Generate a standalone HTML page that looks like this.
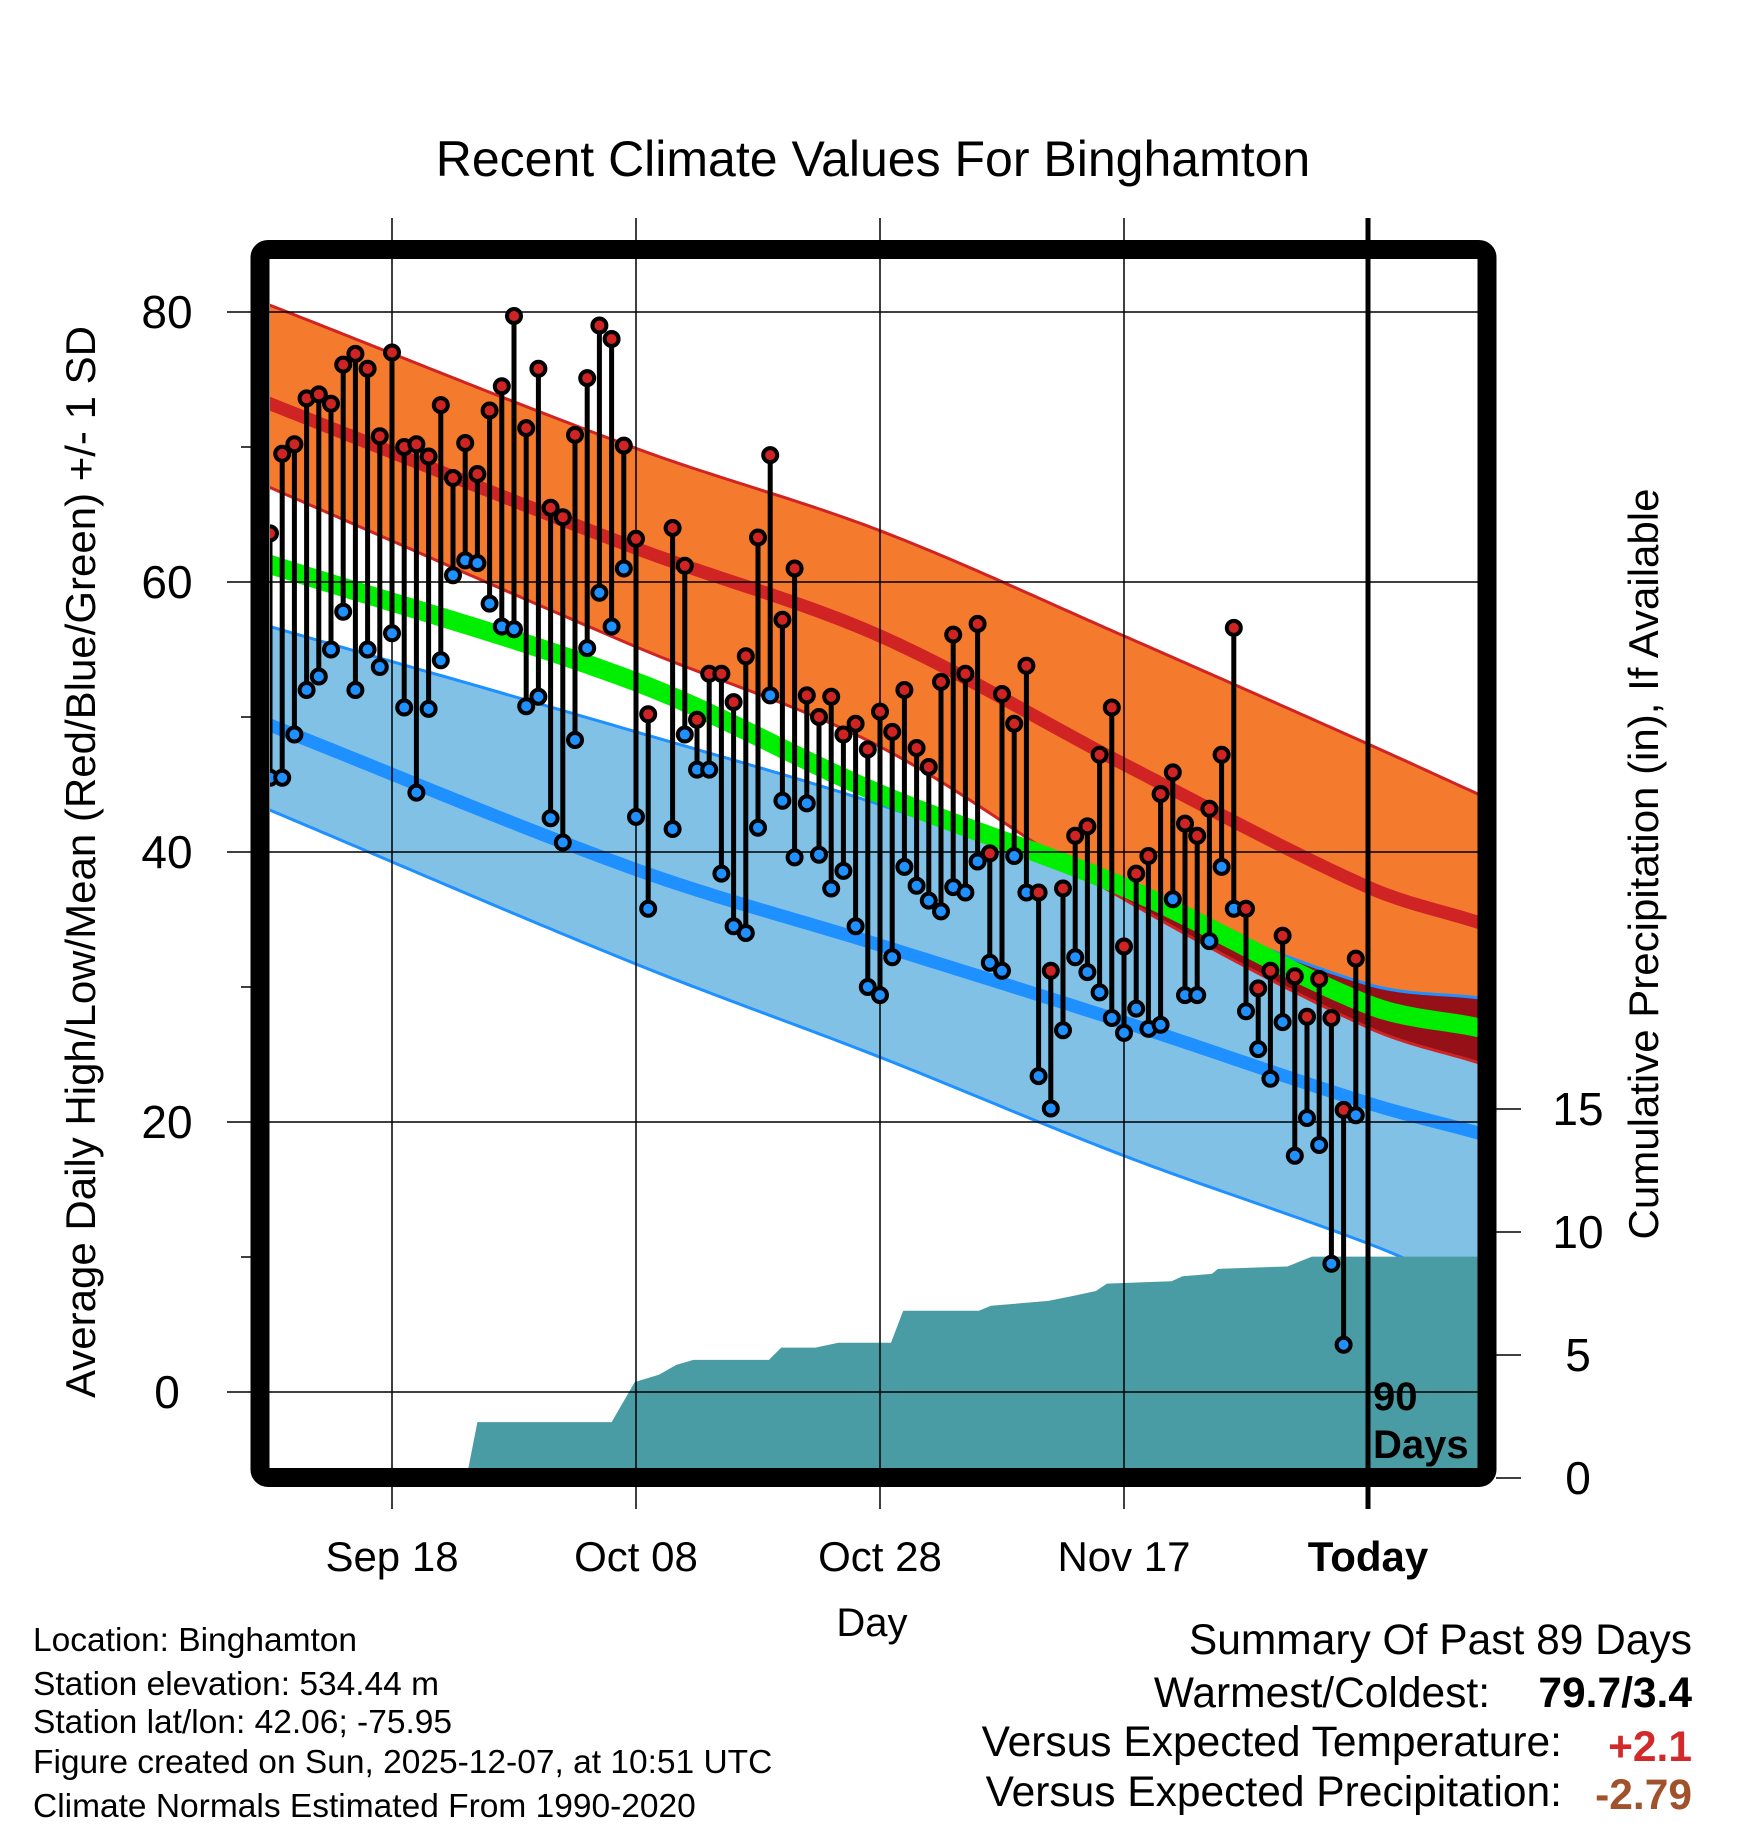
<!DOCTYPE html>
<html><head><meta charset="utf-8"><style>
html,body{margin:0;padding:0;background:#fff;}
svg{display:block;font-family:"Liberation Sans",Arial,sans-serif;}
</style></head><body>
<svg id="chart" width="1748" height="1828" viewBox="0 0 1748 1828" xmlns="http://www.w3.org/2000/svg">
<defs><clipPath id="plotclip"><rect x="270" y="259" width="1208" height="1209"/></clipPath></defs>
<text x="873" y="176" text-anchor="middle" font-size="50">Recent Climate Values For Binghamton</text>
<g id="plot" clip-path="url(#plotclip)"></g>
<g id="axes"></g>
<rect x="260" y="249.5" width="1227" height="1228" rx="8" fill="none" stroke="#000" stroke-width="19"/>
<text x="95" y="862" transform="rotate(-90 95 862)" text-anchor="middle" font-size="42">Average Daily High/Low/Mean (Red/Blue/Green) +/- 1 SD</text>
<text x="1658" y="864" transform="rotate(-90 1658 864)" text-anchor="middle" font-size="42">Cumulative Precipitation (in), If Available</text>
<text x="872" y="1636" text-anchor="middle" font-size="40">Day</text>
<text x="1373" y="1410" font-size="40" font-weight="bold">90</text>
<text x="1373" y="1458" font-size="40" font-weight="bold">Days</text>
<g font-size="33.5">
<text x="33" y="1651">Location: Binghamton</text>
<text x="33" y="1695">Station elevation: 534.44 m</text>
<text x="33" y="1733">Station lat/lon: 42.06; -75.95</text>
<text x="33" y="1773">Figure created on Sun, 2025-12-07, at 10:51 UTC</text>
<text x="33" y="1817">Climate Normals Estimated From 1990-2020</text>
</g>
<g font-size="42.5">
<text x="1692" y="1654" text-anchor="end">Summary Of Past 89 Days</text>
<text x="1490" y="1707" text-anchor="end">Warmest/Coldest:</text>
<text x="1692" y="1707" text-anchor="end" font-weight="bold">79.7/3.4</text>
<text x="1562" y="1756" text-anchor="end">Versus Expected Temperature:</text>
<text x="1692" y="1761" text-anchor="end" font-weight="bold" fill="#d22a2a">+2.1</text>
<text x="1562" y="1806" text-anchor="end">Versus Expected Precipitation:</text>
<text x="1692" y="1809" text-anchor="end" font-weight="bold" fill="#a0522d">-2.79</text>
</g>
<g id="marks" clip-path="url(#plotclip)"></g>
</svg>
<script>
// normals sampled at day index (0 = Sep 8)
const normDays = [0, 30, 50, 70, 90, 99];
const hiUpper = [80.5, 69.9, 63.8, 56.0, 48.0, 44.3];
const hiMean = [73.2, 62.5, 56.0, 46.5, 37.4, 34.8];
const hiLower = [67.0, 55.2, 47.8, 36.5, 27.0, 24.4];
const avgMean = [61.3, 52.6, 44.3, 37.4, 28.7, 27.0];
const loUpper = [56.7, 48.9, 43.5, 37.0, 30.2, 29.2];
const loMean = [49.4, 38.7, 33.1, 27.4, 21.4, 19.2];
const loLower = [43.1, 31.7, 24.8, 17.5, 11.0, 7.5];
// cumulative precipitation (day, inches)
const precipDays = [0, 16.1, 17.0, 28.0, 29.9, 31.9, 33.3, 34.7, 40.9, 41.9, 44.7, 46.6, 50.9, 51.9, 58.1, 59.1, 63.8, 65.8, 67.7, 68.6, 73.9, 74.8, 77.2, 77.7, 83.4, 84.4, 85.4, 99];
const precipCum = [0, 0, 2.27, 2.27, 3.9, 4.2, 4.6, 4.8, 4.8, 5.3, 5.3, 5.5, 5.5, 6.8, 6.8, 7.0, 7.2, 7.4, 7.6, 7.9, 8.0, 8.2, 8.3, 8.5, 8.6, 8.8, 9.0, 9.0];
// daily observations
const obsDays = [0,1,2,3,4,5,6,7,8,9,10,11,12,13,14,15,16,17,18,19,20,21,22,23,24,25,26,27,28,29,30,31,33,34,35,36,37,38,39,40,41,42,43,44,45,46,47,48,49,50,51,52,53,54,55,56,57,58,59,60,61,62,63,64,65,66,67,68,69,70,71,72,73,74,75,76,77,78,79,80,81,82,83,84,85,86,87,88,89];
const highs = [63.6,69.5,70.2,73.6,73.9,73.2,76.1,76.9,75.8,70.8,77.0,70.0,70.2,69.3,73.1,67.7,70.3,68.0,72.7,74.5,79.7,71.4,75.8,65.5,64.8,70.9,75.1,79.0,78.0,70.1,63.2,50.2,64.0,61.2,49.8,53.2,53.2,51.1,54.5,63.3,69.4,57.2,61.0,51.6,50.0,51.5,48.7,49.5,47.6,50.4,48.9,52.0,47.7,46.3,52.6,56.1,53.2,56.9,39.9,51.7,49.5,53.8,37.0,31.2,37.3,41.2,41.9,47.2,50.7,33.0,38.4,39.7,44.3,45.9,42.1,41.2,43.2,47.2,56.6,35.8,29.9,31.2,33.8,30.8,27.8,30.6,27.7,20.9,32.1];
const lows = [45.5,45.5,48.7,52.0,53.0,55.0,57.8,52.0,55.0,53.7,56.2,50.7,44.4,50.6,54.2,60.5,61.6,61.4,58.4,56.7,56.5,50.8,51.5,42.5,40.7,48.3,55.1,59.2,56.7,61.0,42.6,35.8,41.7,48.7,46.1,46.1,38.4,34.5,34.0,41.8,51.6,43.8,39.6,43.6,39.8,37.3,38.6,34.5,30.0,29.4,32.2,38.9,37.5,36.4,35.6,37.4,37.0,39.3,31.8,31.2,39.7,37.0,23.4,21.0,26.8,32.2,31.1,29.6,27.7,26.6,28.4,26.9,27.2,36.5,29.4,29.4,33.4,38.9,35.8,28.2,25.4,23.2,27.4,17.5,20.3,18.3,9.5,3.5,20.5];
const yTicks = [0, 20, 40, 60, 80];
const yMinor = [10, 30, 50, 70];
const xTickDays = [10, 30, 50, 70, 90];
const xTickLabels = ["Sep 18", "Oct 08", "Oct 28", "Nov 17", "Today"];
const pTicks = [0, 5, 10, 15];

const NS = "http://www.w3.org/2000/svg";
const X = d => 270 + d * 12.2;
const Y = t => 1392 - t * 13.5;
const P = p => 1478 - p * 24.6;
function mk(tag, attrs, parent) {
  const e = document.createElementNS(NS, tag);
  for (const k in attrs) e.setAttribute(k, attrs[k]);
  parent.appendChild(e);
  return e;
}
// smooth (Catmull-Rom style) interpolation through the knots
function interp(arr, d) {
  const n = normDays.length;
  if (d <= normDays[0]) return arr[0] + (d - normDays[0]) * (arr[1] - arr[0]) / (normDays[1] - normDays[0]);
  if (d >= normDays[n - 1]) return arr[n - 1] + (d - normDays[n - 1]) * (arr[n - 1] - arr[n - 2]) / (normDays[n - 1] - normDays[n - 2]);
  let i = 0;
  while (d > normDays[i + 1]) i++;
  const x0 = normDays[i], x1 = normDays[i + 1], h = x1 - x0, t = (d - x0) / h;
  const slope = k => {
    if (k === 0) return (arr[1] - arr[0]) / (normDays[1] - normDays[0]);
    if (k === n - 1) return (arr[n - 1] - arr[n - 2]) / (normDays[n - 1] - normDays[n - 2]);
    return (arr[k + 1] - arr[k - 1]) / (normDays[k + 1] - normDays[k - 1]);
  };
  const m0 = slope(i) * h, m1 = slope(i + 1) * h;
  const t2 = t * t, t3 = t2 * t;
  return (2 * t3 - 3 * t2 + 1) * arr[i] + (t3 - 2 * t2 + t) * m0 + (-2 * t3 + 3 * t2) * arr[i + 1] + (t3 - t2) * m1;
}
const plot = document.getElementById("plot");
const axes = document.getElementById("axes");
const marks = document.getElementById("marks");
const dayRange = [];
for (let d = -1; d <= 100; d += 0.5) dayRange.push(d);
function linePts(fn) { return dayRange.map(d => X(d) + "," + Y(fn(d))).join(" "); }
function bandPts(fa, fb) {
  const a = dayRange.map(d => X(d) + "," + Y(fa(d)));
  const b = dayRange.slice().reverse().map(d => X(d) + "," + Y(fb(d)));
  return a.concat(b).join(" ");
}
let e = mk("polygon", {points: bandPts(d => interp(loUpper, d), d => interp(loLower, d)), fill: "#82c1e6"}, plot);


e = mk("polygon", {points: bandPts(d => interp(hiUpper, d), d => interp(hiLower, d)), fill: "#f47a2e"}, plot);


e = mk("polygon", {points: bandPts(d => interp(loUpper, d), d => Math.min(interp(loUpper, d), interp(hiLower, d))), fill: "#961018"}, plot);


e = mk("polyline", {points: linePts(d => interp(hiUpper, d)), fill: "none", stroke: "#d02424", "stroke-width": 3}, plot);


e = mk("polyline", {points: linePts(d => interp(hiLower, d)), fill: "none", stroke: "#d02424", "stroke-width": 3}, plot);


e = mk("polyline", {points: linePts(d => interp(loUpper, d)), fill: "none", stroke: "#1e90ff", "stroke-width": 3}, plot);


e = mk("polyline", {points: linePts(d => interp(loLower, d)), fill: "none", stroke: "#1e90ff", "stroke-width": 3}, plot);


e = mk("polyline", {points: linePts(d => interp(hiMean, d)), fill: "none", stroke: "#d02424", "stroke-width": 13}, plot);


e = mk("polyline", {points: linePts(d => interp(loMean, d)), fill: "none", stroke: "#1e90ff", "stroke-width": 13}, plot);


e = mk("polyline", {points: linePts(d => interp(avgMean, d)), fill: "none", stroke: "#00ee00", "stroke-width": 19}, plot);


let pp = [X(precipDays[0]) + "," + P(0)];
for (let i = 0; i < precipDays.length; i++) pp.push(X(precipDays[i]) + "," + P(precipCum[i]));
pp.push(X(precipDays[precipDays.length - 1]) + "," + P(0));
e = mk("polygon", {points: pp.join(" "), fill: "#4a9ca4"}, plot);


yTicks.forEach(t => {
  const g = mk("line", {x1: 227, x2: 1478, y1: Y(t), y2: Y(t), stroke: "#000", "stroke-width": 1.5}, axes);
  
  
  const l = mk("text", {x: 167, y: Y(t) + 16, "text-anchor": "middle", "font-size": 46}, axes);
  l.textContent = t;
  
  
});
yMinor.forEach(t => {
  const g = mk("line", {x1: 241, x2: 260, y1: Y(t), y2: Y(t), stroke: "#000", "stroke-width": 1.5}, axes);
  
  
});
xTickDays.forEach((d, i) => {
  const today = i === xTickDays.length - 1;
  const g = mk("line", {x1: X(d), x2: X(d), y1: 218, y2: 1509, stroke: "#000", "stroke-width": today ? 5 : 1.5}, axes);
  
  
  const l = mk("text", {x: X(d), y: 1571, "text-anchor": "middle", "font-size": 42, "font-weight": today ? "bold" : "normal"}, axes);
  l.textContent = xTickLabels[i];
  
  
});
pTicks.forEach(p => {
  const g = mk("line", {x1: 1496, x2: 1521, y1: P(p), y2: P(p), stroke: "#000", "stroke-width": 1.5}, axes);
  
  
  const l = mk("text", {x: 1578, y: P(p) + 16, "text-anchor": "middle", "font-size": 46}, axes);
  l.textContent = p;
  
  
});
obsDays.forEach((d, i) => {
  const s = mk("line", {x1: X(d), x2: X(d), y1: Y(highs[i]), y2: Y(lows[i]), stroke: "#000", "stroke-width": 5}, marks);
  
  
});
obsDays.forEach((d, i) => {
  const lo = mk("circle", {cx: X(d), cy: Y(lows[i]), r: 7, fill: "#1e90ff", stroke: "#000", "stroke-width": 4}, marks);
  
  
  const hi = mk("circle", {cx: X(d), cy: Y(highs[i]), r: 7, fill: "#d02424", stroke: "#000", "stroke-width": 4}, marks);
  
  
});
</script>
</body></html>
